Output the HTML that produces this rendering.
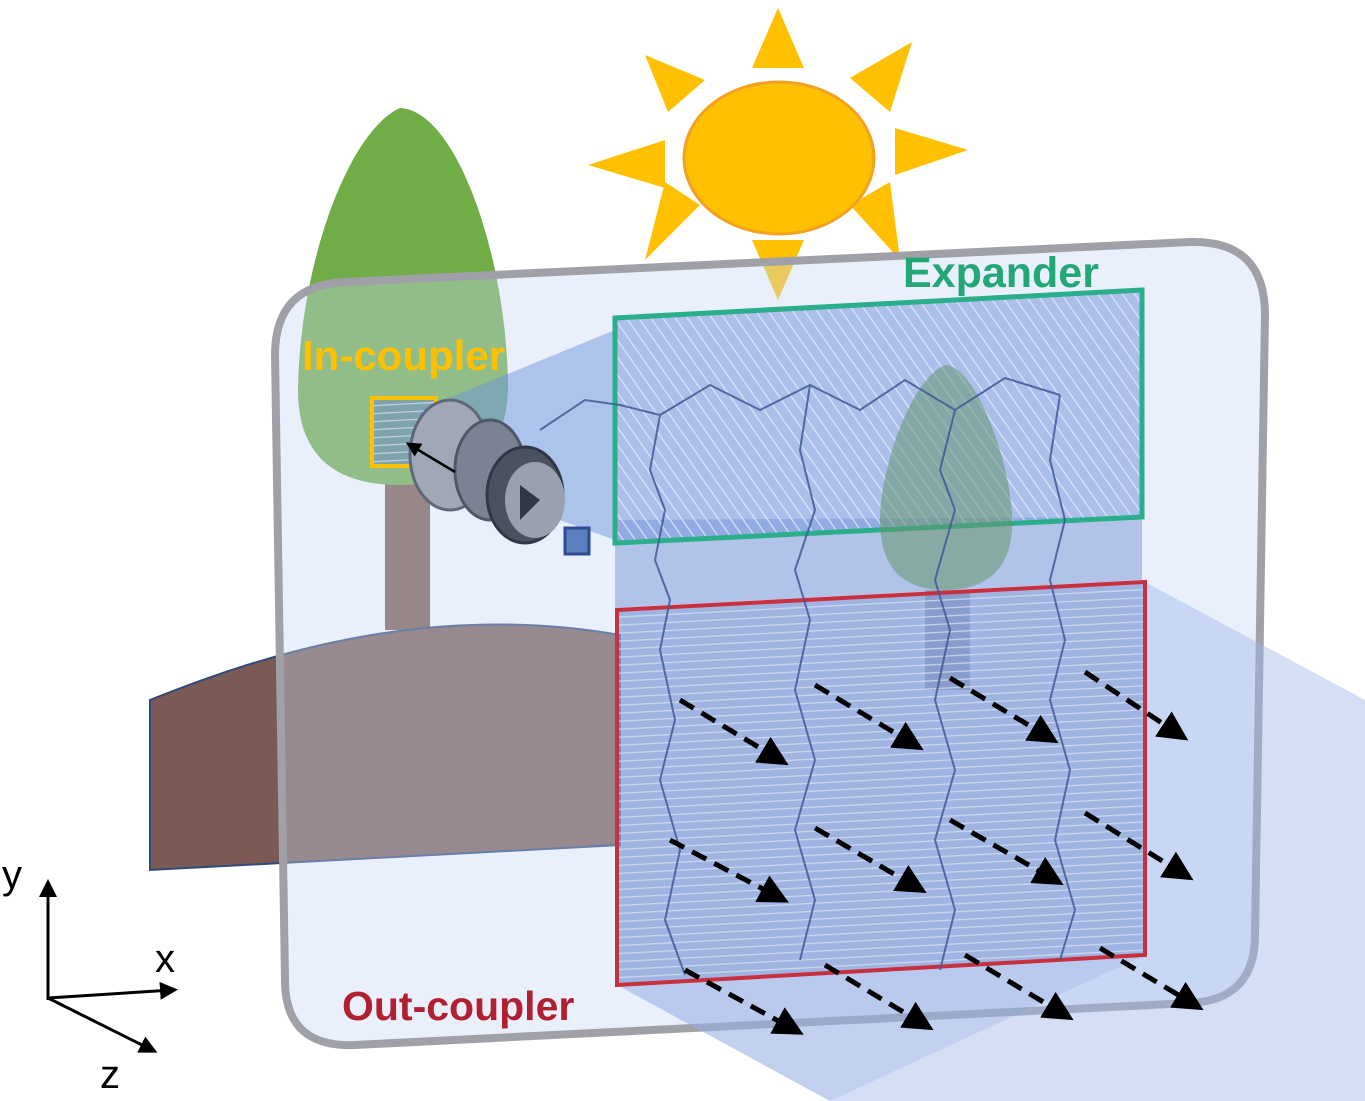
<!DOCTYPE html>
<html><head><meta charset="utf-8"><style>
html,body{margin:0;padding:0;background:#fff;}
svg{display:block;}
text{font-family:"Liberation Sans",sans-serif;font-weight:bold;}
</style></head><body>
<svg width="1365" height="1101" viewBox="0 0 1365 1101" xmlns="http://www.w3.org/2000/svg">
<defs>
<pattern id="diag" width="10" height="10" patternUnits="userSpaceOnUse" patternTransform="rotate(-35)">
<rect width="10" height="10" fill="rgba(120,150,220,0.55)"/>
<line x1="0" y1="0" x2="0" y2="10" stroke="rgba(230,238,255,0.7)" stroke-width="3"/>
</pattern>
<pattern id="horz" width="8" height="8" patternUnits="userSpaceOnUse" patternTransform="rotate(-3)">
<rect width="8" height="8" fill="rgba(110,140,210,0.5)"/>
<line x1="0" y1="0" x2="8" y2="0" stroke="rgba(225,232,250,0.7)" stroke-width="2.5"/>
</pattern>
<marker id="ah" markerWidth="6" markerHeight="6" refX="4" refY="3" orient="auto" markerUnits="strokeWidth">
<path d="M0,0 L6,3 L0,6 Z" fill="#000"/>
</marker>
</defs>

<g fill="#FFC000">
<polygon points="778,8 752,68 804,68"/>
<polygon points="912,42 850,78 890,112"/>
<polygon points="968,150 895,128 895,175"/>
<polygon points="900,260 850,205 890,182"/>
<polygon points="778,300 752,240 804,240"/>
<polygon points="645,260 700,205 665,182"/>
<polygon points="588,165 665,140 665,188"/>
<polygon points="645,55 705,80 668,112"/>
</g>
<ellipse cx="779" cy="158" rx="95" ry="76" fill="#FFC000" stroke="#F4A020" stroke-width="3"/>

<rect x="385" y="470" width="45" height="160" fill="#7B5548"/>
<path d="M400,108 C350,130 300,260 298,390 C298,460 340,485 400,485 C470,485 510,450 508,380 C505,250 455,110 400,108 Z" fill="#70AD47"/>

<path d="M150,700 C250,660 420,600 620,635 L620,845 L150,870 Z" fill="#7B5A55" stroke="#2F4A7A" stroke-width="2"/>

<path d="M345,282 L1190,242 Q1265,240 1265,315 L1255,935 Q1255,1000 1190,1003 L355,1045 Q285,1048 285,980 L275,355 Q275,285 345,282 Z" fill="rgba(200,215,245,0.38)" stroke="#A0A0A8" stroke-width="8"/>

<polygon points="1145,582 1365,700 1365,1101 830,1101 617,985 1145,955" fill="rgba(160,185,235,0.45)"/>
<polygon points="617,610 1145,582 1145,955 830,1101 617,985" fill="rgba(140,165,220,0.25)"/>

<polygon points="420,410 615,330 615,540 420,470" fill="rgba(110,150,220,0.5)"/>
<polygon points="615,520 1142,517 1142,580 615,608" fill="rgba(120,150,215,0.5)"/>

<polygon points="615,318 1142,290 1142,517 615,543" fill="url(#diag)" stroke="#2BAE8A" stroke-width="5"/>
<path d="M945,365 C910,380 880,470 880,520 C880,570 905,590 945,590 C990,590 1015,565 1012,515 C1010,460 975,365 945,365 Z" fill="rgba(100,150,110,0.55)"/>
<rect x="925" y="590" width="45" height="100" fill="rgba(100,100,130,0.4)"/>

<polygon points="617,610 1145,582 1145,955 617,985" fill="url(#horz)" stroke="#C83040" stroke-width="4"/>

<g fill="none" stroke="#3F5A95" stroke-width="2" opacity="0.85">
<polyline points="540,430 585,400 620,405 660,415 710,385 760,410 810,385 860,410 905,380 955,410 1005,378 1060,395"/>
<polyline points="660,415 650,470 665,510 655,560 670,600 660,650 675,720 660,780 680,850 665,920 685,975"/>
<polyline points="810,385 800,450 815,510 795,570 810,620 795,690 815,760 795,830 815,900 800,960"/>
<polyline points="955,410 940,470 955,510 935,580 950,630 935,700 955,770 935,840 955,910 940,970"/>
<polyline points="1060,395 1050,460 1065,520 1050,580 1065,640 1050,700 1070,770 1055,840 1075,910 1060,960"/>
</g>

<rect x="372" y="398" width="64" height="68" fill="url(#horz)" stroke="#FFC000" stroke-width="4"/>

<g>
<ellipse cx="450" cy="455" rx="40" ry="55" fill="#A0A8B8" stroke="#606878" stroke-width="3"/>
<ellipse cx="490" cy="470" rx="35" ry="50" fill="#7A8294" stroke="#505868" stroke-width="3"/>
<ellipse cx="525" cy="495" rx="38" ry="48" fill="#4A5262" stroke="#303848" stroke-width="3"/>
<ellipse cx="535" cy="500" rx="30" ry="38" fill="#9AA0B0"/>
<polygon points="520,485 540,500 520,520" fill="#303848"/>
<rect x="565" y="528" width="24" height="26" fill="#5A80C0" stroke="#2F4A90" stroke-width="3"/>
<line x1="455" y1="472" x2="410" y2="445" stroke="#000" stroke-width="2.5" marker-end="url(#ah)"/>
</g>

<g stroke="#000" stroke-width="5" stroke-dasharray="16,9" fill="none" marker-end="url(#ah)">
<line x1="680" y1="700" x2="780" y2="760"/>
<line x1="815" y1="685" x2="915" y2="745"/>
<line x1="950" y1="678" x2="1050" y2="738"/>
<line x1="1085" y1="672" x2="1180" y2="735"/>
<line x1="670" y1="840" x2="780" y2="898"/>
<line x1="815" y1="828" x2="918" y2="888"/>
<line x1="950" y1="820" x2="1055" y2="880"/>
<line x1="1085" y1="813" x2="1185" y2="875"/>
<line x1="685" y1="970" x2="795" y2="1030"/>
<line x1="825" y1="965" x2="925" y2="1025"/>
<line x1="965" y1="955" x2="1065" y2="1015"/>
<line x1="1100" y1="948" x2="1195" y2="1005"/>
</g>

<text x="903" y="287" font-size="43" fill="#22A877">Expander</text>
<text x="302" y="370" font-size="42" fill="#FFC000">In-coupler</text>
<text x="342" y="1020" font-size="41" fill="#B02030">Out-coupler</text>

<g stroke="#000" stroke-width="3" fill="none" marker-end="url(#ah)">
<line x1="48" y1="1000" x2="48" y2="885"/>
<line x1="48" y1="998" x2="172" y2="990"/>
<line x1="48" y1="998" x2="152" y2="1050"/>
</g>
<text x="2" y="888" font-size="40" fill="#000" style="font-weight:normal">y</text>
<text x="155" y="972" font-size="40" fill="#000" style="font-weight:normal">x</text>
<text x="100" y="1088" font-size="40" fill="#000" style="font-weight:normal">z</text>
</svg>
</body></html>
